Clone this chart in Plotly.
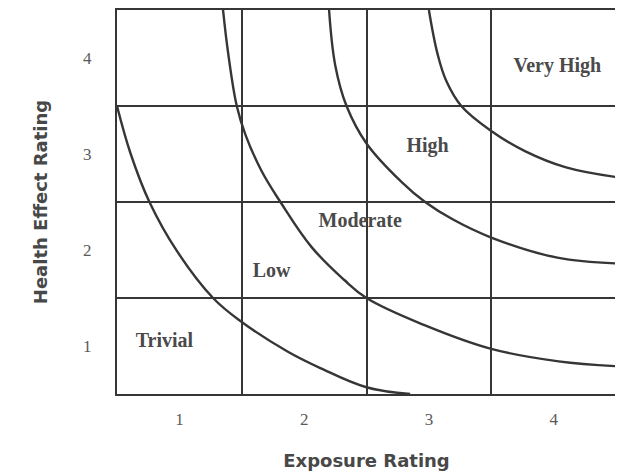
import plotly.graph_objects as go

# Axis categories
exposure_ticks = [1, 2, 3, 4]
health_ticks = [1, 2, 3, 4]
cell_bounds = [1.5, 2.5, 3.5]

# Risk boundary curves (exposure x, health y)
curve1_x = [0.5, 0.61, 0.76, 0.98, 1.27, 1.5, 1.87, 2.13, 2.5, 2.85]
curve1_y = [3.5, 3.0, 2.5, 1.99, 1.5, 1.25, 0.94, 0.77, 0.57, 0.5]

curve2_x = [1.35, 1.39, 1.46, 1.53, 1.66, 1.81, 2.06, 2.32, 2.5, 2.96, 3.5, 4.04, 4.5]
curve2_y = [4.5, 4.06, 3.5, 3.2, 2.82, 2.5, 2.03, 1.69, 1.5, 1.22, 0.97, 0.84, 0.79]

curve3_x = [2.2, 2.25, 2.34, 2.5, 2.78, 2.97, 3.19, 3.5, 4.03, 4.5]
curve3_y = [4.5, 3.92, 3.5, 3.11, 2.71, 2.5, 2.32, 2.13, 1.92, 1.86]

curve4_x = [3.0, 3.07, 3.14, 3.26, 3.5, 3.77, 4.1, 4.5]
curve4_y = [4.5, 4.04, 3.76, 3.5, 3.24, 3.03, 2.86, 2.76]

# Zone labels
zone_names = ["Trivial", "Low", "Moderate", "High", "Very High"]
zone_x = [0.88, 1.74, 2.45, 2.99, 4.03]
zone_y = [1.04, 1.77, 2.29, 3.07, 3.91]

line_col = "#363636"
fig = go.Figure()
for cx, cy in [(curve1_x, curve1_y), (curve2_x, curve2_y),
               (curve3_x, curve3_y), (curve4_x, curve4_y)]:
    fig.add_trace(go.Scatter(x=cx, y=cy, mode="lines",
                             line=dict(color=line_col, width=2.4, shape="spline", smoothing=1.1),
                             hoverinfo="skip", showlegend=False))

fig.add_trace(go.Scatter(x=zone_x, y=zone_y, mode="text", text=zone_names,
                         textfont=dict(family="Liberation Serif", size=20, color="#4a4a4a",
                                       weight="bold"),
                         hoverinfo="skip", showlegend=False))

axis_common = dict(
    range=[0.5, 4.5], showgrid=False, zeroline=False, automargin=False,
    showline=True, linecolor=line_col, linewidth=2.2, mirror=True,
    ticks="",
    tickfont=dict(family="Liberation Serif", size=17, color="#5a5a5a"),
    minor=dict(tickvals=cell_bounds, showgrid=True, gridcolor=line_col, gridwidth=2.2, ticks=""),
)

fig.update_layout(
    width=615, height=466,
    margin=dict(l=109, r=7, t=2, b=80),
    plot_bgcolor="white", paper_bgcolor="white",
    xaxis=dict(axis_common, tickvals=exposure_ticks, ticklabelstandoff=8,
               title=dict(text="<b>Exposure Rating</b>", standoff=27,
                          font=dict(family="DejaVu Sans", size=18, color="#484848"))),
    yaxis=dict(axis_common, tickvals=health_ticks, ticklabelstandoff=20,
               title=dict(text="<b>Health Effect Rating</b>", standoff=31,
                          font=dict(family="DejaVu Sans", size=18, color="#484848"))),
)

fig.write_html("out.html")
